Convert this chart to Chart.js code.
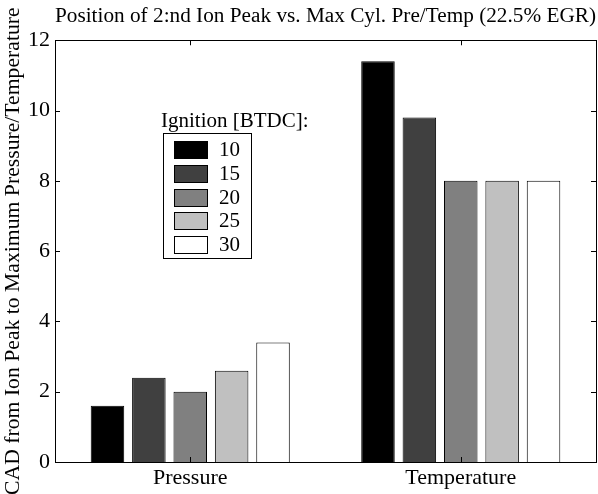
<!DOCTYPE html>
<html>
<head>
<meta charset="utf-8">
<script src="https://cdn.jsdelivr.net/npm/chart.js@4/dist/chart.umd.min.js"></script>
<style>
  html, body { margin: 0; padding: 0; background: #fff; }
  #wrap { width: 598px; height: 494px; }
</style>
</head>
<body>
<div id="wrap"><canvas id="myChart" width="598" height="494"></canvas></div>
<script>
// categories on the x axis
var categories = ['Pressure', 'Temperature'];
// ignition timing [BTDC] -> one bar series each
var ignition = ['10', '15', '20', '25', '30'];
var ign10 = [1.6, 11.4];
var ign15 = [2.4, 9.8];
var ign20 = [2.0, 8.0];
var ign25 = [2.6, 8.0];
var ign30 = [3.4, 8.0];
var yTicks = [0, 2, 4, 6, 8, 10, 12];

var barColors = ['#000000', '#404040', '#808080', '#c0c0c0', '#ffffff'];
var serif = "'Liberation Serif', 'Times New Roman', serif";

// box around the axes plus matlab style ticks pointing inwards
var boxPlugin = {
  id: 'boxPlugin',
  afterDatasetsDraw: function(chart) {
    var ctx = chart.ctx, a = chart.chartArea;
    var ys = chart.scales.y, xs = chart.scales.x;
    ctx.save();
    ctx.strokeStyle = '#000';
    ctx.lineWidth = 1;
    ctx.beginPath();
    yTicks.forEach(function(v) {
      var py = Math.round(ys.getPixelForValue(v)) + 0.5;
      ctx.moveTo(a.left, py); ctx.lineTo(a.left + 5, py);
      ctx.moveTo(a.right, py); ctx.lineTo(a.right - 5, py);
    });
    categories.forEach(function(c, i) {
      var px = Math.round(xs.getPixelForValue(i)) + 0.5;
      ctx.moveTo(px, a.top); ctx.lineTo(px, a.top + 5);
      ctx.moveTo(px, a.bottom); ctx.lineTo(px, a.bottom - 5);
    });
    ctx.stroke();
    ctx.strokeRect(Math.round(a.left) + 0.5, Math.round(a.top) + 0.5,
                   Math.round(a.right - a.left), Math.round(a.bottom - a.top));
    ctx.restore();
  }
};

// legend drawn inside the plot like the original figure
var boxLegend = {
  id: 'boxLegend',
  afterDraw: function(chart) {
    var ctx = chart.ctx;
    var x0 = 163, y0 = 133, w = 88, h = 125;
    ctx.save();
    ctx.font = '21px ' + serif;
    ctx.fillStyle = '#000';
    ctx.textBaseline = 'alphabetic';
    ctx.textAlign = 'left';
    ctx.fillText('Ignition [BTDC]:', 161, 127);
    ctx.fillStyle = '#fff';
    ctx.fillRect(x0, y0, w, h);
    ctx.strokeStyle = '#000';
    ctx.lineWidth = 1;
    ctx.strokeRect(x0 + 0.5, y0 + 0.5, w, h);
    chart.data.datasets.forEach(function(ds, i) {
      var cy = 149.5 + i * 23.8;
      ctx.fillStyle = ds.backgroundColor;
      ctx.fillRect(174, Math.round(cy - 8.5), 33, 17);
      ctx.strokeStyle = '#000';
      ctx.strokeRect(174.5, Math.round(cy - 8.5) + 0.5, 33, 17);
      ctx.fillStyle = '#000';
      ctx.textBaseline = 'middle';
      ctx.fillText(ds.label, 219, cy + 1);
    });
    ctx.restore();
  }
};

var ctx = document.getElementById('myChart');
var seriesData = [ign10, ign15, ign20, ign25, ign30];
var myChart = new Chart(ctx, {
  type: 'bar',
  data: {
    labels: categories,
    datasets: ignition.map(function(lab, i) {
      return {
        label: lab,
        data: seriesData[i],
        backgroundColor: barColors[i],
        borderColor: '#000000',
        borderWidth: 1,
        categoryPercentage: 0.765,
        barPercentage: 0.81
      };
    })
  },
  options: {
    responsive: false,
    animation: false,
    layout: { padding: { left: 0, right: 2, top: 0, bottom: 0 } },
    plugins: {
      legend: { display: false },
      tooltip: { enabled: false },
      title: {
        display: true,
        fullSize: false,
        align: 'end',
        text: 'Position of 2:nd Ion Peak vs. Max Cyl. Pre/Temp (22.5% EGR)',
        color: '#000',
        font: { family: serif, size: 21.9, weight: 'normal' },
        padding: { top: 3, bottom: 11 }
      }
    },
    scales: {
      x: {
        grid: { display: false, drawTicks: false },
        border: { display: false },
        ticks: { color: '#000', font: { family: serif, size: 22 }, padding: 3 },
        afterFit: function(s) { s.height = 32; }
      },
      y: {
        min: 0,
        max: 12,
        afterBuildTicks: function(s) { s.ticks = yTicks.map(function(v) { return { value: v }; }); },
        grid: { display: false, drawTicks: false },
        border: { display: false },
        ticks: { color: '#000', font: { family: serif, size: 22 }, padding: 5 },
        title: {
          display: true,
          text: 'CAD from Ion Peak to Maximum Pressure/Temperature',
          color: '#000',
          font: { family: serif, size: 21.7 },
          padding: { top: 0, bottom: 0 }
        },
        afterFit: function(s) { s.width = 55; }
      }
    }
  },
  plugins: [boxPlugin, boxLegend]
});
</script>
</body>
</html>
